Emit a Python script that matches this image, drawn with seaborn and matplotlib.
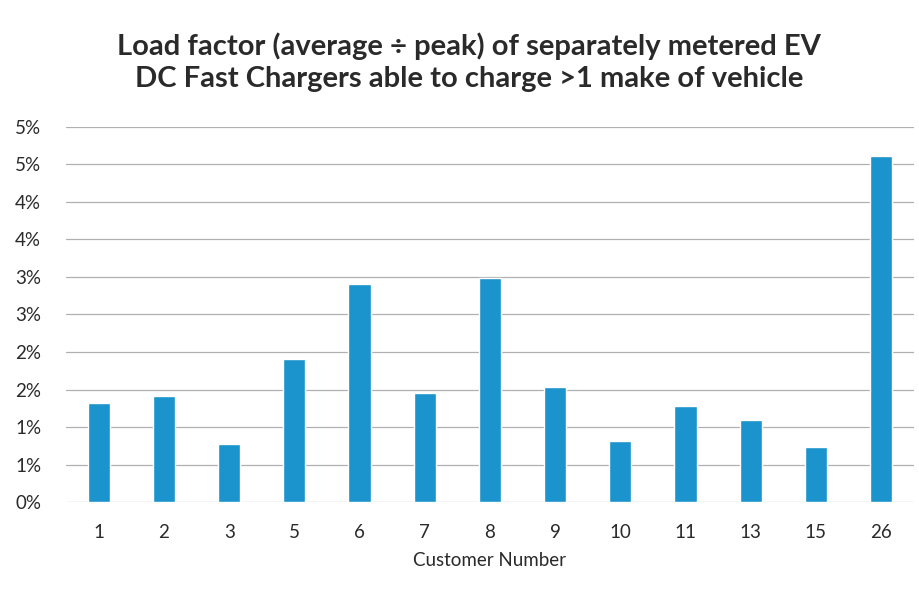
import math
import pandas as pd
import matplotlib
matplotlib.use("Agg")
import matplotlib.pyplot as plt
import seaborn as sns
from matplotlib.ticker import FuncFormatter, MultipleLocator

customers = ["1", "2", "3", "5", "6", "7", "8", "9", "10", "11", "13", "15", "26"]
load_factor = [0.0132, 0.0141, 0.0078, 0.0191, 0.0291, 0.0145, 0.0299,
               0.0153, 0.0082, 0.0128, 0.0110, 0.0073, 0.0461]

df = pd.DataFrame({"customer": customers, "load_factor": load_factor})

sns.set_style("white")
plt.rcParams["font.family"] = ["Lato", "DejaVu Sans"]

fig = plt.figure(figsize=(9.2, 5.9), dpi=100)
ax = fig.add_axes([0.072, 0.149, 0.921, 0.636])

sns.barplot(data=df, x="customer", y="load_factor", color="#1B93CC",
            width=0.34, saturation=1, ax=ax, zorder=3)

ax.set_ylim(0, 0.05)
ax.yaxis.set_major_locator(MultipleLocator(0.005))


def pct_excel(v, pos):
    # Excel "0%" format rounds half away from zero
    return f"{int(math.floor(v * 100 + 0.5 + 1e-9))}%"


ax.yaxis.set_major_formatter(FuncFormatter(pct_excel))
ax.grid(axis="y", color="#b0b0b0", linewidth=0.9, zorder=0)
for s in ax.spines.values():
    s.set_visible(False)
ax.tick_params(axis="both", length=0, labelsize=13.5, labelcolor="#2a2a2a")
ax.tick_params(axis="y", pad=18)
ax.tick_params(axis="x", pad=16)

ax.set_xlabel("Customer Number", fontsize=13.5, color="#2a2a2a", labelpad=8)
ax.set_ylabel("")

fig.suptitle("Load factor (average \u00f7 peak) of separately metered EV\n"
             "DC Fast Chargers able to charge >1 make of vehicle",
             x=0.51, y=0.945, fontsize=21, fontweight="bold", color="#2a2a2a",
             linespacing=1.3)

fig.savefig("out.png", dpi=100)
